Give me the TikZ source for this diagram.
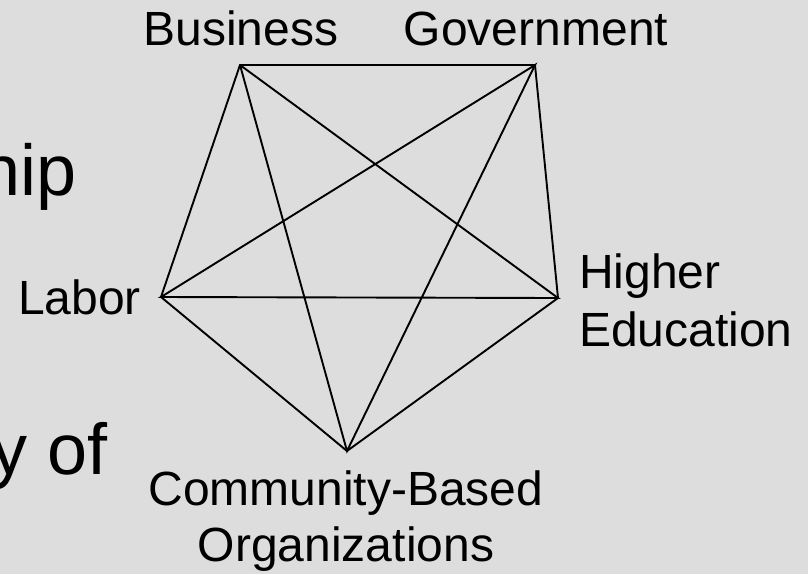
\documentclass[tikz,border=0pt]{standalone}
\usepackage{fontspec}
\setmainfont{Liberation Sans}
\definecolor{bg}{HTML}{DDDDDD}
\begin{document}
\begin{tikzpicture}[x=1pt,y=-1pt,
  lbl/.style={inner sep=0pt,font=\fontsize{48}{56}\selectfont},
  big/.style={inner sep=0pt,font=\fontsize{72}{80}\selectfont},
  edge/.style={line width=1.9pt,black}]
\fill[bg] (0,0) rectangle (808,574);
\useasboundingbox (0,0) rectangle (808,574);
\coordinate (B) at (240,65);
\coordinate (G) at (535,65);
\coordinate (H) at (558,298);
\coordinate (C) at (347,451);
\coordinate (L) at (161,297);
\draw[edge] (B) -- (G) -- (H) -- (C) -- (L) -- cycle;
\draw[edge] (B) -- (H) -- (L) -- (G) -- (C) -- (B);
\node[lbl,anchor=base] (tb) at (241,45) {Business};
\node[lbl,anchor=base] (tg) at (536,45) {Government};
\node[lbl,anchor=base east] (tl) at (141,314) {Labor};
\node[lbl,anchor=base west,align=left] (th) at (579,346) {Higher\\[2pt]Education};
\node[lbl,anchor=base,align=center] (tc) at (346,561) {Community-Based\\Organizations};
\node[big,anchor=base east] (t1) at (77,195) {hip};
\node[big,anchor=base east] (t2) at (108,474) {y of};
\end{tikzpicture}
\end{document}
